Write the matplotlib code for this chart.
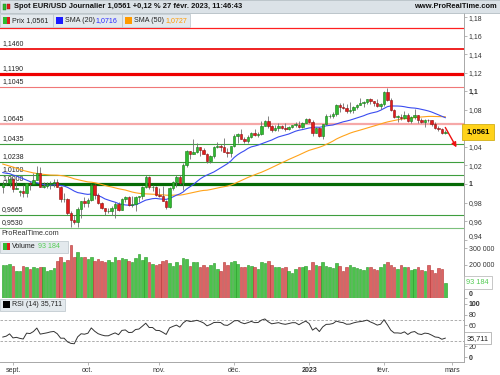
import matplotlib
matplotlib.use("Agg")
import matplotlib.pyplot as plt
import matplotlib.patches as mpatches
from matplotlib.transforms import blended_transform_factory
import numpy as np
import pandas as pd

plt.rcParams['font.family'] = ['Liberation Sans', 'DejaVu Sans']

# closes before the visible window (16 juin - 26 août 2022), only used for SMA / RSI
closes_before = [1.0545, 1.0495, 1.0515, 1.0535, 1.0565, 1.0520, 1.0555, 1.0585, 1.0520, 1.0445, 1.0480,
                 1.0425, 1.0425, 1.0265, 1.0180, 1.0160, 1.0185, 1.0040, 1.0035, 1.0060, 1.0020, 1.0080,
                 1.0140, 1.0225, 1.0180, 1.0230, 1.0210, 1.0225, 1.0120, 1.0200, 1.0195, 1.0220,
                 1.0260, 1.0165, 1.0135, 1.0245, 1.0180, 1.0195, 1.0210, 1.0300, 1.0320, 1.0260, 1.0160,
                 1.0170, 1.0180, 1.0090, 1.0040, 0.9940, 0.9970, 0.9970, 0.9970, 0.9965]

dates = pd.bdate_range("2022-08-29", "2023-02-27")

opens = [0.9965, 1.0000, 1.0015,
         1.0055, 0.9945, 0.9910, 0.9925, 0.9905, 1.0010, 1.0000, 1.0045, 1.0120, 0.9965, 0.9980, 0.9995, 1.0015, 1.0025, 0.9970, 0.9835, 0.9835, 0.9690, 0.9610, 0.9590, 0.9735, 0.9815,
         0.9800, 0.9825, 0.9985, 0.9880, 0.9790, 0.9740, 0.9705, 0.9705, 0.9745, 0.9780, 0.9720, 0.9840, 0.9855, 0.9775, 0.9780, 0.9860, 0.9875, 0.9965, 1.0080, 0.9965, 0.9965,
         0.9880, 0.9875, 0.9820, 0.9750, 0.9960, 1.0020, 1.0075, 1.0015, 1.0210, 1.0355, 1.0325, 1.0345, 1.0395, 1.0365, 1.0325, 1.0245, 1.0305, 1.0395, 1.0405, 1.0400, 1.0340, 1.0330,
         1.0405, 1.0520, 1.0535, 1.0490, 1.0465, 1.0505, 1.0555, 1.0530, 1.0535, 1.0630, 1.0680, 1.0625, 1.0585, 1.0605, 1.0625, 1.0605, 1.0595, 1.0615, 1.0640, 1.0640, 1.0610, 1.0660,
         1.0705, 1.0670, 1.0550, 1.0605, 1.0520, 1.0645, 1.0730, 1.0735, 1.0760, 1.0850, 1.0830, 1.0820, 1.0790, 1.0795, 1.0830, 1.0855, 1.0870, 1.0885, 1.0915, 1.0890, 1.0870, 1.0845,
         1.0865, 1.0990, 1.0910, 1.0795, 1.0725, 1.0725, 1.0715, 1.0745, 1.0680, 1.0725, 1.0740, 1.0685, 1.0670, 1.0695, 1.0685, 1.0650, 1.0605, 1.0595, 1.0545]
highs = [1.0030, 1.0055, 1.0080,
         1.0060, 1.0035, 0.9935, 0.9990, 1.0010, 1.0030, 1.0115, 1.0198, 1.0185, 1.0020, 1.0020, 1.0035, 1.0050, 1.0050, 0.9975, 0.9905, 0.9850, 0.9710, 0.9670, 0.9750, 0.9815, 0.9855,
         0.9850, 0.9999, 0.9995, 0.9900, 0.9810, 0.9745, 0.9740, 0.9760, 0.9810, 0.9805, 0.9850, 0.9875, 0.9875, 0.9875, 0.9870, 0.9875, 0.9980, 1.0095, 1.0090, 0.9985, 0.9975,
         0.9955, 0.9975, 0.9825, 0.9965, 1.0035, 1.0095, 1.0095, 1.0225, 1.0365, 1.0360, 1.0480, 1.0440, 1.0395, 1.0385, 1.0330, 1.0310, 1.0405, 1.0450, 1.0430, 1.0495, 1.0390, 1.0415,
         1.0535, 1.0545, 1.0595, 1.0505, 1.0530, 1.0565, 1.0590, 1.0560, 1.0675, 1.0695, 1.0735, 1.0635, 1.0635, 1.0655, 1.0640, 1.0660, 1.0625, 1.0640, 1.0665, 1.0675, 1.0665, 1.0715,
         1.0710, 1.0685, 1.0620, 1.0610, 1.0650, 1.0760, 1.0760, 1.0775, 1.0865, 1.0870, 1.0875, 1.0865, 1.0885, 1.0845, 1.0860, 1.0925, 1.0890, 1.0915, 1.0930, 1.0900, 1.0915, 1.0870,
         1.1000, 1.1035, 1.0925, 1.0805, 1.0740, 1.0755, 1.0790, 1.0765, 1.0730, 1.0805, 1.0745, 1.0715, 1.0705, 1.0705, 1.0695, 1.0665, 1.0625, 1.0600, 1.0580]
lows = [0.9900, 0.9990, 0.9965,
        0.9910, 0.9945, 0.9875, 0.9865, 0.9865, 0.9930, 0.9995, 1.0045, 0.9965, 0.9955, 0.9955, 0.9945, 0.9965, 0.9965, 0.9810, 0.9805, 0.9670, 0.9535, 0.9570, 0.9535, 0.9635, 0.9750,
        0.9750, 0.9815, 0.9835, 0.9780, 0.9730, 0.9670, 0.9685, 0.9670, 0.9630, 0.9710, 0.9720, 0.9805, 0.9760, 0.9755, 0.9705, 0.9810, 0.9840, 0.9960, 0.9950, 0.9925, 0.9870,
        0.9855, 0.9815, 0.9730, 0.9745, 0.9935, 0.9970, 1.0000, 0.9935, 1.0185, 1.0270, 1.0325, 1.0335, 1.0300, 1.0320, 1.0225, 1.0225, 1.0280, 1.0390, 1.0355, 1.0340, 1.0290, 1.0290,
        1.0395, 1.0445, 1.0480, 1.0445, 1.0445, 1.0495, 1.0515, 1.0510, 1.0525, 1.0625, 1.0600, 1.0560, 1.0575, 1.0570, 1.0590, 1.0575, 1.0585, 1.0605, 1.0610, 1.0600, 1.0605, 1.0655,
        1.0655, 1.0520, 1.0545, 1.0510, 1.0485, 1.0640, 1.0710, 1.0715, 1.0730, 1.0780, 1.0810, 1.0765, 1.0765, 1.0770, 1.0805, 1.0850, 1.0835, 1.0860, 1.0865, 1.0840, 1.0835, 1.0805,
        1.0840, 1.0895, 1.0790, 1.0710, 1.0670, 1.0685, 1.0705, 1.0665, 1.0655, 1.0700, 1.0660, 1.0660, 1.0615, 1.0665, 1.0630, 1.0595, 1.0575, 1.0535, 1.0535]
closes = [1.0000, 1.0015, 1.0055,
          0.9945, 0.9955, 0.9925, 0.9905, 1.0010, 1.0000, 1.0040, 1.0120, 0.9965, 0.9980, 0.9995, 1.0015, 1.0025, 0.9970, 0.9835, 0.9835, 0.9690, 0.9610, 0.9590, 0.9735, 0.9815, 0.9800,
          0.9825, 0.9985, 0.9880, 0.9790, 0.9740, 0.9705, 0.9705, 0.9745, 0.9780, 0.9720, 0.9840, 0.9855, 0.9775, 0.9780, 0.9860, 0.9875, 0.9965, 1.0080, 0.9965, 0.9965, 0.9880,
          0.9875, 0.9820, 0.9750, 0.9960, 1.0020, 1.0075, 1.0015, 1.0210, 1.0355, 1.0325, 1.0345, 1.0395, 1.0365, 1.0325, 1.0245, 1.0305, 1.0395, 1.0405, 1.0400, 1.0340, 1.0330, 1.0405,
          1.0520, 1.0535, 1.0490, 1.0465, 1.0505, 1.0555, 1.0530, 1.0535, 1.0630, 1.0680, 1.0625, 1.0585, 1.0605, 1.0625, 1.0605, 1.0595, 1.0615, 1.0640, 1.0640, 1.0610, 1.0660, 1.0705,
          1.0670, 1.0550, 1.0605, 1.0520, 1.0645, 1.0730, 1.0735, 1.0760, 1.0850, 1.0830, 1.0820, 1.0790, 1.0795, 1.0830, 1.0855, 1.0870, 1.0885, 1.0915, 1.0890, 1.0870, 1.0845, 1.0865,
          1.0990, 1.0910, 1.0795, 1.0725, 1.0725, 1.0715, 1.0745, 1.0680, 1.0725, 1.0740, 1.0685, 1.0670, 1.0695, 1.0685, 1.0650, 1.0605, 1.0595, 1.0545, 1.0561]
volumes = [199000, 199000, 205000,
           195000, 165000, 160000, 195000, 185000, 175000, 190000, 180000, 185000, 190000, 165000, 170000, 180000, 225000, 245000, 215000, 230000, 320000, 245000, 280000, 250000, 245000,
           235000, 245000, 225000, 235000, 225000, 215000, 230000, 220000, 245000, 230000, 240000, 235000, 225000, 215000, 240000, 265000, 230000, 250000, 220000, 205000, 200000,
           205000, 225000, 230000, 210000, 195000, 215000, 200000, 240000, 235000, 195000, 220000, 215000, 190000, 200000, 185000, 200000, 210000, 175000, 165000, 220000, 200000, 215000,
           225000, 205000, 190000, 185000, 200000, 195000, 185000, 175000, 215000, 210000, 225000, 200000, 185000, 190000, 180000, 185000, 160000, 150000, 175000, 185000, 190000, 195000,
           170000, 215000, 200000, 195000, 220000, 195000, 185000, 180000, 210000, 195000, 165000, 190000, 200000, 185000, 180000, 175000, 170000, 185000, 190000, 175000, 170000, 185000,
           205000, 215000, 200000, 190000, 175000, 200000, 185000, 190000, 170000, 175000, 185000, 170000, 165000, 200000, 170000, 150000, 180000, 175000, 93184]

# horizontal support / resistance levels (the 1,1680 label sits under the legend, so it stays blank)
levels = [1.1680, 1.1460, 1.1190, 1.1045, 1.0645, 1.0435, 1.0238, 1.0100, 1.0000, 0.9665, 0.9530]
level_labels = ["", "1,1460", "1,1190", "1,1045", "1,0645", "1,0435", "1,0238", "1,0100", "1,0000", "0,9665", "0,9530"]
level_colors = ["#ff2020", "#ee1010", "#ee0000", "#f07878", "#f6a8a8", "#3e9e3e", "#3e9e3e", "#3e9e3e", "#056a05", "#3e9e3e", "#7cc07c"]
level_widths = [0.9, 1.3, 2.3, 0.8, 1.6, 0.8, 0.8, 0.8, 2.3, 0.8, 0.8]

# tick labels hidden behind the value boxes are left out
price_ticks = [0.94, 0.96, 0.98, 1.00, 1.02, 1.04, 1.06, 1.08, 1.10, 1.12, 1.14, 1.16, 1.18]
price_tick_labels = ["0,94", "0,96", "0,98", "1", "1,02", "1,04", "", "1,08", "1,1", "1,12", "1,14", "1,16", "1,18"]
vol_ticks = [0, 100000, 200000, 300000]
vol_tick_labels = ["0", "", "200 000", "300 000"]
rsi_ticks = [0, 20, 40, 60, 80, 100]
rsi_tick_labels = ["0", "20", "", "60", "80", "100"]
month_starts = ["2022-09-01", "2022-10-03", "2022-11-01", "2022-12-01", "2023-01-02", "2023-02-01", "2023-03-01"]
month_labels = ["sept.", "oct.", "nov.", "déc.", "2023", "févr.", "mars"]

# projected move arrow (index, price)
arrow_start = (130.0, 1.0610)
arrow_end = (133.3, 1.0395)

# indicators
all_close = pd.Series(closes_before + closes)
n0 = len(closes_before)
sma20 = all_close.rolling(20).mean().values[n0:]
sma50 = all_close.rolling(50).mean().values[n0:]
delta = all_close.diff()
gain = delta.clip(lower=0).ewm(alpha=1 / 14, adjust=False).mean()
loss = (-delta.clip(upper=0)).ewm(alpha=1 / 14, adjust=False).mean()
rsi = (100 - 100 / (1 + gain / loss)).values[n0:]

x = np.arange(len(dates))
o = np.array(opens)
h = np.array(highs)
l = np.array(lows)
c = np.array(closes)
up = c >= o

fig = plt.figure(figsize=(5, 3.75), dpi=100)
W, H = 500.0, 375.0


def fx(px):
    return px / W


def fy(py):
    return 1 - py / H


ax_p = fig.add_axes([0, fy(240), fx(464), (240 - 13) / H])
ax_v = fig.add_axes([0, fy(298), fx(464), (298 - 240) / H])
ax_r = fig.add_axes([0, fy(362), fx(464), (362 - 298) / H])

xlim = (-0.82, 135.5)
for ax in (ax_p, ax_v, ax_r):
    ax.set_xlim(*xlim)
    for s in ("left", "top"):
        ax.spines[s].set_visible(False)
    ax.spines["right"].set_color("#a8a8a8")
    ax.spines["bottom"].set_color("#a8a8a8")
    ax.spines["right"].set_linewidth(0.7)
    ax.spines["bottom"].set_linewidth(0.7)
    ax.yaxis.tick_right()
    ax.tick_params(axis="y", direction="out", length=2, width=0.5, colors="#999999",
                   labelcolor="#333333", labelsize=5, pad=1.5)
    ax.tick_params(axis="x", bottom=False, labelbottom=False)

# ---- price panel
ax_p.set_ylim(0.9396, 1.1844)
trans = blended_transform_factory(ax_p.transAxes, ax_p.transData)
for lev, lab, col, lw in zip(levels, level_labels, level_colors, level_widths):
    ax_p.axhline(lev, color=col, lw=lw, zorder=1)
    if lab:
        ax_p.annotate(lab, xy=(0, lev), xycoords=trans, xytext=(1.5, 1.2), textcoords="offset points",
                      fontsize=5, color="#222222", va="bottom", ha="left", zorder=2)

ax_p.plot(x, sma50, color="#ffa31a", lw=0.8, zorder=3)
ax_p.plot(x, sma20, color="#3a4cf0", lw=0.8, zorder=3)
ax_p.vlines(x, l, h, color="#6e6e6e", lw=0.6, zorder=4)
body_bottom = np.minimum(o, c)
body_h = np.maximum(np.abs(c - o), 0.0006)
ax_p.bar(x[up], body_h[up], bottom=body_bottom[up], width=0.72, color="#2fba2f",
         edgecolor="#157a15", linewidth=0.4, zorder=5)
ax_p.bar(x[~up], body_h[~up], bottom=body_bottom[~up], width=0.72, color="#e21c1c",
         edgecolor="#8c1010", linewidth=0.4, zorder=5)

ax_p.annotate("", xy=arrow_end, xytext=arrow_start, annotation_clip=False,
              arrowprops=dict(arrowstyle="-|>", color="#ee1111", lw=1.0, mutation_scale=7,
                              shrinkA=0, shrinkB=0), zorder=8)

ax_p.set_yticks(price_ticks)
ax_p.set_yticklabels(price_tick_labels)
for t in ax_p.get_yticklabels():
    if t.get_text() in ("1", "1,1"):
        t.set_fontweight("bold")
    if t.get_text() == "0,94":
        t.set_verticalalignment("bottom")

ax_p.text(1.005, closes[-1], "1,0561", transform=trans, fontsize=5.5, fontweight="bold",
          va="center", ha="left", zorder=20, clip_on=False,
          bbox=dict(boxstyle="square,pad=0.55", fc="#ffd21a", ec="#c9a400", lw=0.5))
ax_p.text(0.004, 0.012, "ProRealTime.com", transform=ax_p.transAxes, fontsize=5.2,
          color="#333333", va="bottom", ha="left")

# ---- volume panel
ax_v.set_ylim(0, 350000)
vol_colors = np.where(up, "#4cc24c", "#dc6464")
vol_edges = np.where(up, "#229a22", "#b53232")
ax_v.bar(x, volumes, width=0.75, color=vol_colors, edgecolor=vol_edges, linewidth=0.4)
ax_v.set_yticks(vol_ticks)
ax_v.set_yticklabels(vol_tick_labels)
for t in ax_v.get_yticklabels():
    if t.get_text() == "0":
        t.set_fontweight("bold")
        t.set_verticalalignment("bottom")
vtrans = blended_transform_factory(ax_v.transAxes, ax_v.transData)
ax_v.text(1.005, volumes[-1], "93 184", transform=vtrans, fontsize=5.3, color="#55cc55",
          va="center", ha="left", zorder=20, clip_on=False,
          bbox=dict(boxstyle="square,pad=0.35", fc="white", ec="#b0b0b0", lw=0.5))

# ---- RSI panel
ax_r.set_ylim(-9.4, 111.3)
ax_r.axhline(70, color="#a0a0a0", lw=0.6, ls=(0, (3, 2)))
ax_r.axhline(30, color="#a0a0a0", lw=0.6, ls=(0, (3, 2)))
ax_r.plot(x, rsi, color="#333333", lw=0.7)
ax_r.set_yticks(rsi_ticks)
ax_r.set_yticklabels(rsi_tick_labels)
for t in ax_r.get_yticklabels():
    if t.get_text() in ("0", "100"):
        t.set_fontweight("bold")
rtrans = blended_transform_factory(ax_r.transAxes, ax_r.transData)
ax_r.text(1.005, 35.711, "35,711", transform=rtrans, fontsize=5.3, color="#222222",
          va="center", ha="left", zorder=20, clip_on=False,
          bbox=dict(boxstyle="square,pad=0.35", fc="white", ec="#a0a0a0", lw=0.5))

month_pos = [int(np.busday_count("2022-08-29", d)) for d in month_starts]
ax_r.set_xticks(month_pos)
ax_r.set_xticklabels(month_labels)
ax_r.tick_params(axis="x", bottom=True, labelbottom=True, direction="out", length=2, width=0.5,
                 colors="#999999", labelcolor="#333333", labelsize=5, pad=1.5)
for t in ax_r.get_xticklabels():
    if t.get_text() == "2023":
        t.set_fontweight("bold")

# ---- header bar and legends (figure coordinates)
fig.add_artist(mpatches.Rectangle((0, fy(13)), 1, 13 / H, transform=fig.transFigure,
                                  fc="#dbe2e7", ec="#a9b4bb", lw=0.5, zorder=10))
fig.add_artist(mpatches.Rectangle((fx(2.5), fy(10)), 3 / W, 6 / H, transform=fig.transFigure,
                                  fc="#2fba2f", ec="#157a15", lw=0.3, zorder=11))
fig.add_artist(mpatches.Rectangle((fx(6.5), fy(9)), 3 / W, 5 / H, transform=fig.transFigure,
                                  fc="#e21c1c", ec="#8c1010", lw=0.3, zorder=11))
fig.text(fx(14), fy(6.8), "Spot EUR/USD Journalier 1,0561 +0,12 % 27 févr. 2023, 11:46:43",
         fontsize=5.4, fontweight="bold", color="#111111", va="center", ha="left", zorder=12)
fig.text(fx(497), fy(6.8), "www.ProRealTime.com", fontsize=5.4, fontweight="bold",
         color="#111111", va="center", ha="right", zorder=12)


def legend_box(x0, x1, y0, y1):
    fig.add_artist(mpatches.Rectangle((fx(x0), fy(y1)), (x1 - x0) / W, (y1 - y0) / H,
                                      transform=fig.transFigure, fc="#e3e9ed", ec="#b9c3c9",
                                      lw=0.5, zorder=10))


def swatch(x0, yc, col, col2=None):
    fig.add_artist(mpatches.Rectangle((fx(x0), fy(yc + 3.5)), 7 / W, 7 / H,
                                      transform=fig.transFigure, fc=col, lw=0, zorder=11))
    if col2 is not None:
        fig.add_artist(mpatches.Rectangle((fx(x0 + 3.5), fy(yc + 3.5)), 3.5 / W, 7 / H,
                                          transform=fig.transFigure, fc=col2, lw=0, zorder=11))


legend_box(0, 53, 14, 27)
swatch(3, 20.5, "#2fba2f", "#e21c1c")
fig.text(fx(12), fy(20.8), "Prix 1,0561", fontsize=5.1, color="#222222", va="center", zorder=12)
legend_box(53, 122, 14, 27)
swatch(56, 20.5, "#1a1aff")
fig.text(fx(65), fy(20.8), "SMA (20) ", fontsize=5.1, color="#222222", va="center", zorder=12)
fig.text(fx(96), fy(20.8), "1,0716", fontsize=5.1, color="#2a2aff", va="center", zorder=12)
legend_box(122, 190, 14, 27)
swatch(125, 20.5, "#ff9a00")
fig.text(fx(134), fy(20.8), "SMA (50) ", fontsize=5.1, color="#222222", va="center", zorder=12)
fig.text(fx(165), fy(20.8), "1,0727", fontsize=5.1, color="#ff9a00", va="center", zorder=12)

legend_box(0, 68, 240.5, 253)
swatch(3, 246.8, "#2fba2f", "#e21c1c")
fig.text(fx(12), fy(247), "Volume", fontsize=5.1, color="#222222", va="center", zorder=12)
fig.text(fx(38), fy(247), "93 184", fontsize=5.1, color="#55cc55", va="center", zorder=12)

legend_box(0, 65, 298.5, 311)
swatch(3, 304.8, "#000000")
fig.text(fx(12), fy(305), "RSI (14) 35,711", fontsize=5.1, color="#222222", va="center", zorder=12)

fig.savefig("out.png", dpi=100)
